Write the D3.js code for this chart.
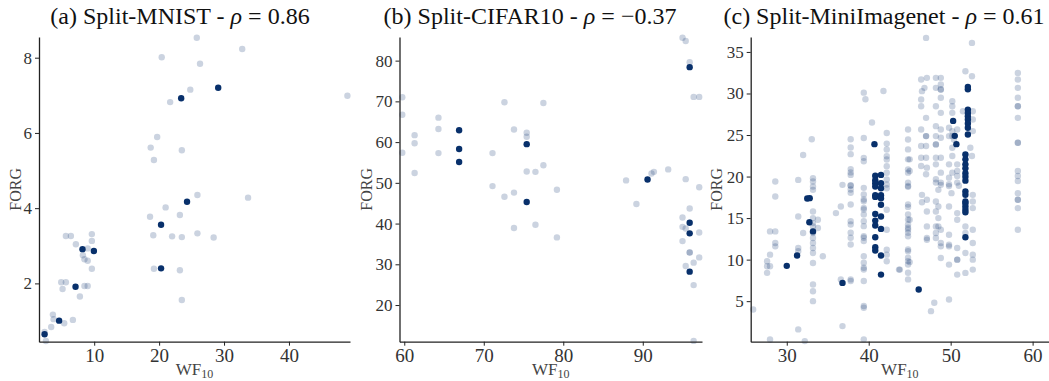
<!DOCTYPE html>
<html>
<head>
<meta charset="utf-8">
<script src="https://cdn.jsdelivr.net/npm/d3@7"></script>
<style>
  body { margin: 0; background: #fff; }
  svg { display: block; }
</style>
</head>
<body>
<script>
// ---- data: [WF10, FORG] pairs, light = all runs, dark = selected runs ----
const mnistAll = [
  [25.8,8.53],[20.4,8.01],[32.8,8.23],[26.3,7.84],[24.8,7.15],[21.7,6.82],[49.0,6.99],[19.7,5.89],[18.7,5.61],
  [23.5,5.54],[19.2,5.28],[25.9,4.35],[33.7,4.28],[21.0,4.02],[18.6,3.77],[23.2,3.82],[19.1,3.28],[22.0,3.25],
  [23.5,3.23],[25.9,3.33],[28.4,3.22],[19.2,2.39],[23.2,2.35],[23.5,1.56],[5.64,3.26],[6.41,3.26],[9.64,3.31],
  [7.18,3.04],[9.64,3.13],[9.0,2.93],[8.26,2.75],[8.5,2.64],[9.0,2.60],[9.64,2.39],[4.92,2.03],[5.64,2.03],
  [5.13,1.85],[8.5,1.93],[9.0,1.93],[7.8,1.65],[3.64,1.17],[3.75,1.05],[5.38,0.94],[6.72,1.03],[3.38,0.84],
  [2.36,0.71],[2.56,0.47]
];
const mnistBest = [
  [23.4,6.92],[29.1,7.20],[24.3,4.17],[20.3,3.56],[20.3,2.40],[8.2,2.91],[9.95,2.86],[7.13,1.91],[4.6,1.01],[2.36,0.65]
];

const cifarAll = [
  [59.75,71.0],[59.75,66.7],[59.75,57.4],[61.3,61.7],[61.3,59.7],[61.3,52.4],[64.3,66.0],[64.3,63.2],[64.3,57.3],
  [72.6,69.8],[73.8,63.1],[75.4,62.3],[75.4,61.3],[77.5,69.6],[71.1,57.3],[75.4,52.8],[76.5,52.7],[77.5,54.3],
  [71.1,49.2],[79.2,48.3],[87.9,50.6],[91.1,52.3],[91.4,52.7],[93.2,53.3],[95.0,85.6],[95.4,84.8],[95.9,79.6],
  [96.4,71.1],[97.1,71.1],[95.4,50.9],[97.1,48.9],[72.6,46.6],[73.8,47.6],[73.8,38.9],[76.5,39.7],[79.2,36.6],
  [89.2,44.8],[95.9,43.7],[95.0,41.5],[95.0,39.2],[95.4,38.8],[97.1,37.8],[95.0,35.7],[95.9,32.9],[95.9,32.9],
  [96.4,30.4],[97.1,31.7],[95.4,29.6],[96.4,24.9],[96.4,11.2]
];
const cifarBest = [
  [66.9,62.9],[66.9,58.3],[66.9,55.1],[75.4,59.5],[75.4,45.3],[90.6,50.8],[95.9,78.4],[95.9,40.2],[95.9,37.6],[95.9,28.2]
];

const miniAll = [
  [25.9,4.0],[27.96,0.39],[27.6,9.81],[27.6,9.21],[27.96,9.21],[27.6,8.41],[27.96,10.6],[27.96,13.4],[28.6,13.4],
  [28.6,17.6],[28.6,12.0],[28.6,11.6],[31.4,15.2],[31.4,11.4],[31.4,11.0],[31.4,1.6],[32.0,13.2],[32.2,0.19],
  [33.2,18.4],[33.2,15.8],[33.2,15.0],[33.2,14.4],[33.2,14.0],[33.2,13.2],[33.2,12.6],[33.2,12.0],[33.2,11.4],
  [33.2,10.8],[33.2,9.6],[33.2,7.0],[33.2,6.2],[33.2,5.0],[33.8,14.8],[33.8,13.8],[34.4,10.4],[36.0,15.6],
  [36.6,16.4],[36.6,7.6],[36.8,2.0],
  [37.8,18.96],[37.8,18.44],[37.8,18.04],[37.8,16.64],[37.8,14.63],[37.8,14.23],[37.8,13.23],[37.8,12.63],
  [37.8,11.83],[37.8,7.62],[37.8,7.42],
  [39.4,18.64],[39.4,17.84],[39.4,17.24],[39.4,17.03],[39.4,16.23],[39.4,16.03],[39.4,15.43],[39.4,14.63],
  [39.4,14.03],[39.4,12.83],[39.4,12.63],[39.4,12.23],[39.4,10.42],[39.4,9.62],[39.4,9.02],[39.4,8.82],
  [39.4,7.42],[39.4,4.41],[39.4,4.21],[39.4,0.40],
  [42.2,18.6],[42.2,16.0],[42.2,13.6],[42.2,11.2],[42.2,10.6],[42.2,9.8],[43.7,8.8],
  [28.6,19.4],[31.4,19.6],[32.0,22.6],[33.05,24.5],[33.2,19.8],[33.2,19.4],[33.2,18.8],[36.8,19.0],
  [37.8,24.5],[37.8,23.5],[37.8,22.7],[37.8,20.9],[37.8,20.5],[37.8,20.2],[37.8,18.9],
  [39.4,30.1],[39.6,29.3],[39.4,24.65],[39.4,22.25],[39.4,21.85],[40.4,26.5],[41.8,30.3],
  [42.2,25.25],[42.2,23.97],[42.2,23.25],[42.2,22.45],[42.2,22.05],[42.2,21.25],[42.2,20.45],[42.2,19.65],[42.2,19.05],
  [47.0,36.69],[52.6,36.09],[51.8,32.68],[52.6,32.08],
  [58.2,32.48],[58.2,31.68],[58.2,30.68],[58.2,29.48],[58.2,28.47],[58.2,28.47],[58.2,27.07],[58.2,24.07],
  [58.2,24.07],[58.2,20.67],[58.2,20.07],[58.2,19.47],[58.2,18.0],[58.2,17.2],[58.2,17.2],[58.2,16.2],[58.2,13.6],
  [44.8,25.67],[44.8,24.47],[44.8,23.27],[44.8,22.07],[44.8,20.87],[44.8,20.47],[44.8,19.27],[44.8,18.87],
  [45.0,22.07],[45.0,20.67],
  [46.5,30.28],[46.4,31.68],[47.1,31.88],[46.8,30.68],[46.4,29.28],[46.4,28.47],[47.0,27.07],[46.4,25.67],
  [47.0,24.87],[47.0,24.87],[46.4,23.67],[47.0,23.67],[46.4,22.27],[47.0,22.27],[46.4,21.27],[47.1,21.07],[47.0,20.27],
  [48.2,31.88],[48.8,31.88],[48.8,31.08],[48.2,30.68],[48.8,30.48],[48.8,30.48],[48.8,29.48],[48.2,28.47],
  [48.8,27.67],[48.2,26.07],[48.8,25.67],[48.2,24.87],[48.8,24.67],[48.2,23.87],[48.2,23.87],[48.2,22.27],
  [48.8,22.27],[48.2,21.47],[48.8,20.47],[48.2,19.67],[48.8,19.27],[48.2,19.27],
  [50.2,29.07],[50.2,28.47],[50.2,27.67],[49.8,25.87],[50.2,25.47],[49.8,24.87],[50.2,24.87],[50.4,24.47],
  [50.2,23.47],[50.2,22.47],[49.8,21.47],[50.8,21.47],[50.2,20.47],[49.8,19.87],[50.8,20.67],[50.8,20.07],
  [50.8,19.27],[49.8,19.07],[50.8,25.67],
  [51.5,27.87],[52.7,27.87],[52.7,26.87],[52.7,25.47],[52.4,23.47],[52.6,22.47],
  [44.8,18.76],[44.8,16.63],[44.8,16.35],[44.8,15.43],[44.8,14.83],[44.8,14.23],[44.8,13.83],[44.8,13.63],
  [44.8,13.23],[44.8,12.82],[44.8,11.22],[44.8,11.02],[44.8,10.22],[44.8,9.82],[44.8,9.42],[44.8,8.42],[44.8,7.62],
  [45.0,9.7],[45.0,14.8],[43.8,8.8],
  [46.5,17.8],[46.5,16.9],[47.1,17.2],[47.1,15.8],[47.1,14.0],[47.1,12.6],[47.1,12.4],
  [48.8,19.0],[48.5,18.4],[48.2,17.0],[48.5,16.4],[48.2,15.8],[48.5,15.0],[48.2,14.0],[48.5,14.0],[48.8,13.6],
  [48.2,13.2],[48.2,12.6],[48.8,12.0],[48.8,11.6],[48.8,10.2],
  [49.8,18.85],[50.1,18.0],[49.8,16.4],[50.8,15.6],[50.8,14.8],[49.8,13.0],[49.8,11.8],[49.8,11.6],[50.8,11.4],
  [49.8,9.4],[50.8,10.0],[50.8,10.0],[50.8,8.2],[49.8,5.2],
  [51.8,14.0],[51.8,13.2],[51.8,10.8],[51.8,8.4],[52.7,17.8],[52.7,17.0],[52.7,16.2],[52.7,13.6],[52.7,12.0],
  [52.7,10.6],[52.7,10.0],[52.7,8.8],[51.0,18.9],[48.0,4.8],[47.6,3.8]
];
const miniBest = [
  [30.0,9.25],[31.26,10.5],[32.5,17.35],[32.8,17.4],[32.76,14.5],[33.2,13.4],[36.8,7.2],[40.7,23.9],[40.8,20.1],[41.5,20.2],
  [40.8,19.56],[40.8,19.2],[40.8,18.8],[40.8,17.75],[40.8,17.55],[40.8,15.5],[40.8,14.7],[40.8,14.1],[40.8,12.7],
  [40.8,11.5],[40.8,11.1],
  [41.5,19.2],[41.5,18.6],[41.5,17.75],[41.5,17.4],[41.5,16.6],[41.5,15.2],[41.5,13.7],[41.5,10.5],[41.5,8.2],
  [46.1,6.4],[50.3,26.7],[50.5,24.9],[50.7,23.9],
  [52.1,30.5],[52.1,30.8],[52.1,28.06],[52.1,27.66],[52.1,27.27],[52.1,26.87],[52.1,26.4],[52.1,25.87],[52.1,25.07],
  [51.8,22.67],[51.8,22.07],[51.8,21.47],[51.8,20.99],[51.8,20.39],[51.8,19.99],[51.8,19.51],[51.8,18.2],[51.8,17.8],
  [51.8,17.0],[51.8,16.8],[51.8,16.4],[51.8,16.0],[51.8,15.7],[51.8,12.7]
];

const titles = ["(a) Split-MNIST - ", "(b) Split-CIFAR10 - ", "(c) Split-MiniImagenet - "];
const rhoText = ["0.86", "\u22120.37", "0.61"];
const xTicks = [[10, 20, 30, 40], [60, 70, 80, 90], [30, 40, 50, 60]];
const yTicks = [[2, 4, 6, 8], [20, 30, 40, 50, 60, 70, 80], [5, 10, 15, 20, 25, 30, 35]];

const navy = "#08306b";
const serif = "'Liberation Serif', 'Times New Roman', Times, serif";

const panels = [
  { all: mnistAll, best: mnistBest, x0: 39, x1: 350, xd: [1.5, 49.4], yd: [0.45, 8.55], yLab: 15, tx: 180 },
  { all: cifarAll, best: cifarBest, x0: 399.5, x1: 702, xd: [59.4, 97.45], yd: [11, 85.8], yLab: 366, tx: 530 },
  { all: miniAll, best: miniBest, x0: 750.7, x1: 1049, xd: [25.6, 62.0], yd: [0.12, 36.8], yLab: 716, tx: 884 }
];

const W = 1049, H = 381;
const plotTop = 37, plotBottom = 341.7;

const svg = d3.select("body").append("svg")
  .attr("width", W)
  .attr("height", H);

const styleAxis = (a, size) => {
  a.attr("font-family", serif);
  a.selectAll("text").attr("font-size", size).attr("fill", "#333");
  a.selectAll(".tick line").attr("stroke", "#222");
  a.select(".domain").attr("stroke", "#222").attr("stroke-width", 1.3);
};

panels.forEach((p, i) => {
  const x = d3.scaleLinear().domain(p.xd).range([p.x0, p.x1]);
  const y = d3.scaleLinear().domain(p.yd).range([plotBottom, plotTop]);
  const g = svg.append("g");

  // light points (all runs)
  g.selectAll("circle.all")
    .data(p.all)
    .enter()
    .append("circle")
    .attr("class", "all")
    .attr("cx", d => x(d[0]))
    .attr("cy", d => y(d[1]))
    .attr("r", 3.2)
    .attr("fill", navy)
    .attr("fill-opacity", 0.21);

  // dark points
  g.selectAll("circle.best")
    .data(p.best)
    .enter()
    .append("circle")
    .attr("class", "best")
    .attr("cx", d => x(d[0]))
    .attr("cy", d => y(d[1]))
    .attr("r", 3.2)
    .attr("fill", navy);

  // axes
  g.append("g")
    .attr("transform", `translate(0,${plotBottom})`)
    .call(d3.axisBottom(x).tickValues(xTicks[i]).tickSize(4).tickSizeOuter(0).tickPadding(3))
    .call(a => styleAxis(a, 19));

  g.append("g")
    .attr("transform", `translate(${p.x0},0)`)
    .call(d3.axisLeft(y).tickValues(yTicks[i]).tickSize(4).tickSizeOuter(0).tickPadding(3))
    .call(a => styleAxis(a, 17));

  // titles
  const t = svg.append("text")
    .attr("x", p.tx)
    .attr("y", 24)
    .attr("text-anchor", "middle")
    .attr("font-family", serif)
    .attr("font-size", 24)
    .attr("fill", "#111");
  t.append("tspan").text(titles[i]);
  t.append("tspan").attr("font-style", "italic").text("\u03c1");
  t.append("tspan").text(" = " + rhoText[i]);

  // axis labels
  const xl = svg.append("text")
    .attr("x", (p.x0 + p.x1) / 2)
    .attr("y", 375)
    .attr("text-anchor", "middle")
    .attr("font-family", serif)
    .attr("font-size", 17)
    .attr("fill", "#444");
  xl.append("tspan").text("WF");
  xl.append("tspan").attr("dy", 2.5).attr("font-size", 12).text("10");

  svg.append("text")
    .attr("transform", `translate(${p.yLab},${(plotTop + plotBottom) / 2}) rotate(-90)`)
    .attr("text-anchor", "middle")
    .attr("dy", "0.35em")
    .attr("font-family", serif)
    .attr("font-size", 16)
    .attr("fill", "#444")
    .text("FORG");
});
</script>
</body>
</html>
